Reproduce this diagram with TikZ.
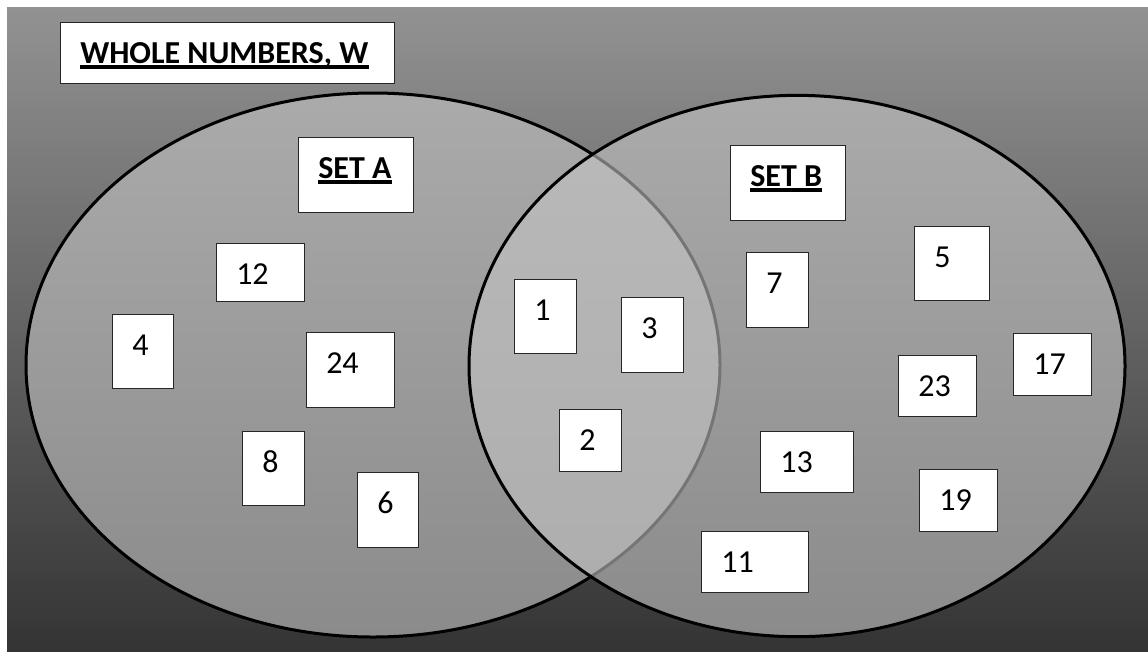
\documentclass[tikz,border=0pt]{standalone}
\usepackage{fontspec}
\setmainfont{Carlito}
\definecolor{bgtop}{RGB}{146,146,146}
\definecolor{bgbot}{RGB}{52,52,52}
\definecolor{setfill}{RGB}{196,196,196}
\tikzset{
  bgshade/.style={top color=bgtop, bottom color=bgbot, draw=none},
  setellipse/.style={fill=setfill, fill opacity=0.6, draw=black, line width=2.25pt},
  numbox/.style={anchor=north west, draw=black!85, fill=white, line width=0.8pt, inner sep=0pt},
  numtext/.style={anchor=base west, inner sep=0pt, font=\fontsize{24}{28}\selectfont},
  headtext/.style={anchor=base west, inner sep=0pt, font=\fontsize{24}{28}\selectfont\bfseries},
  uline/.style={line width=2.6pt, line cap=butt}
}
\newcommand{\nbox}[6]{%
  \node[numbox, minimum width=#4*0.75pt, minimum height=#5*0.75pt] (#1) at (#2,#3) {};
  \node[numtext] (#1t) at ([xshift=15pt,yshift=-30.75pt]#1.north west) {#6};
}
\newcommand{\hbx}[6]{%
  \node[numbox, minimum width=#4*0.75pt, minimum height=#5*0.75pt] (#1) at (#2,#3) {};
  \node[headtext] (#1t) at ([xshift=15pt,yshift=-30.75pt]#1.north west) {#6};
  \draw[uline] ([yshift=-3pt]#1t.base west) -- ([yshift=-3pt]#1t.base east);
}
\begin{document}
\begin{tikzpicture}[x=0.75pt, y=-0.75pt]
\useasboundingbox (0,0) rectangle (1148,651);
\fill[white] (0,0) rectangle (1148,651);
\shade[bgshade] (7,7) rectangle (1148,651);
% sets
\draw[setellipse] (373,365) ellipse [x radius=260.25pt, y radius=204pt];
\draw[setellipse] (797,366) ellipse [x radius=246pt, y radius=203pt];
% headings
\hbx{title}{60}{22}{334}{61}{WHOLE NUMBERS, W}
\hbx{seta}{298}{137}{115}{75}{SET A}
\hbx{setb}{730}{145}{115}{75}{SET B}
% set A only
\nbox{n12}{216}{243}{88}{58}{12}
\nbox{n4}{112}{314}{61}{74}{4}
\nbox{n24}{306}{332}{88}{75}{24}
\nbox{n8}{242}{431}{62}{74}{8}
\nbox{n6}{357}{472}{61}{75}{6}
% intersection
\nbox{n1}{514}{279}{62}{74}{1}
\nbox{n3}{621}{297}{62}{75}{3}
\nbox{n2}{559}{409}{62}{62}{2}
% set B only
\nbox{n7}{746}{252}{62}{75}{7}
\nbox{n5}{914}{226}{75}{74}{5}
\nbox{n23}{898}{355}{78}{61}{23}
\nbox{n17}{1013}{333}{78}{62}{17}
\nbox{n13}{760}{431}{93}{61}{13}
\nbox{n19}{919}{469}{78}{62}{19}
\nbox{n11}{701}{531}{107}{61}{11}
\end{tikzpicture}
\end{document}
